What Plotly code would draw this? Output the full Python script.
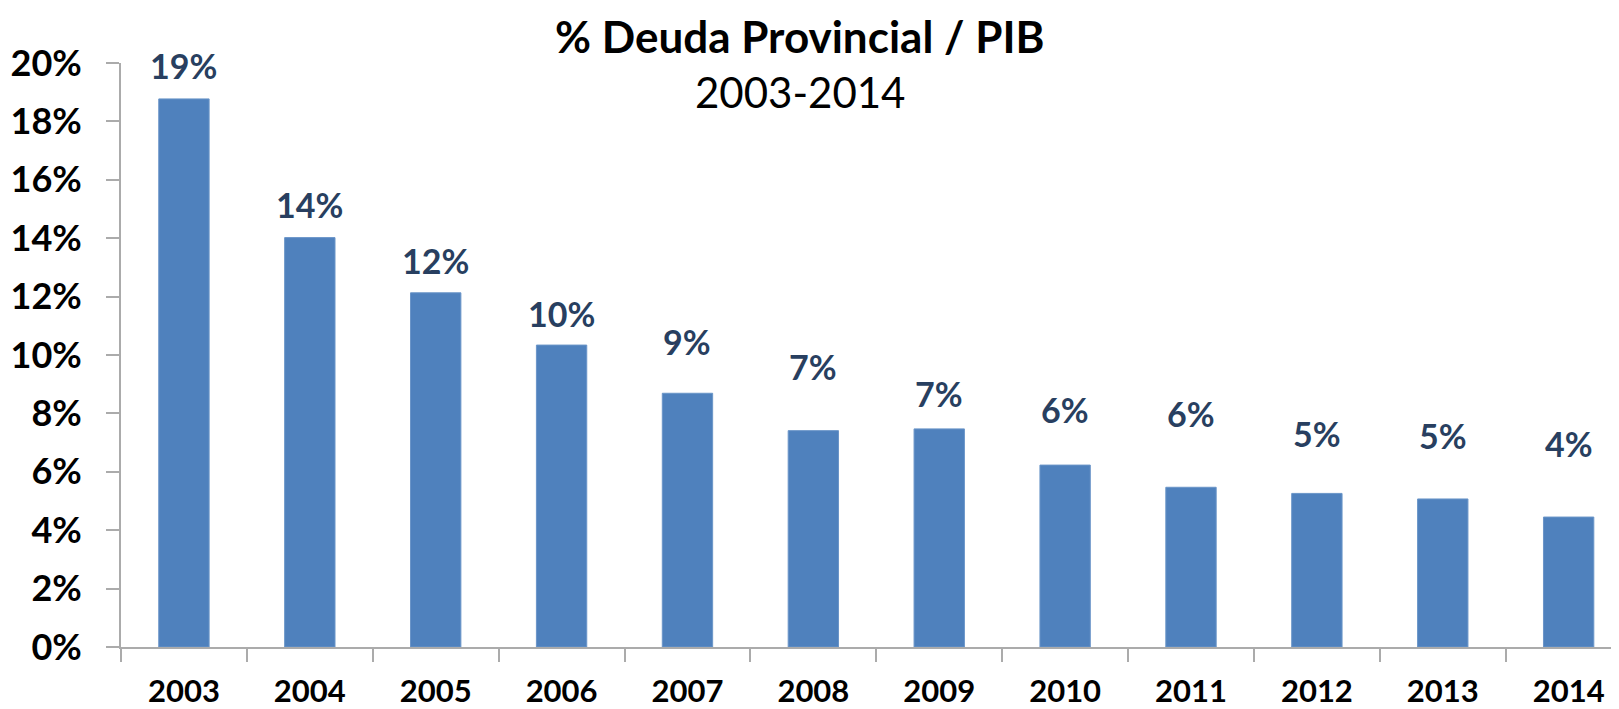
import plotly.graph_objects as go

years = ["2003", "2004", "2005", "2006", "2007", "2008", "2009", "2010", "2011", "2012", "2013", "2014"]
deuda_pib = [18.77, 14.02, 12.13, 10.34, 8.69, 7.41, 7.47, 6.23, 5.47, 5.26, 5.07, 4.45]
label_text = ["19%", "14%", "12%", "10%", "9%", "7%", "7%", "6%", "6%", "5%", "5%", "4%"]
label_y = [19.90, 15.14, 13.25, 11.43, 10.46, 9.60, 8.69, 8.14, 8.01, 7.32, 7.26, 6.98]
y_ticks = [0, 2, 4, 6, 8, 10, 12, 14, 16, 18, 20]
y_tick_text = [f"{v}%" for v in y_ticks]

FONT = "Lato, 'Open Sans', sans-serif"
AXIS_GRAY = "#ABABAB"

fig = go.Figure()
fig.add_trace(go.Bar(
    x=years, y=deuda_pib,
    marker=dict(color="#4F81BD", line=dict(color="#6A95C8", width=1)),
    hoverinfo="x+y",
))

annotations = []
for i, (txt, ly) in enumerate(zip(label_text, label_y)):
    annotations.append(dict(
        x=i, y=ly, xref="x", yref="y", text=f"<b>{txt}</b>",
        showarrow=False, yanchor="middle", xanchor="center",
        font=dict(family=FONT, size=34, color="#283F60"),
    ))

annotations.append(dict(
    x=0.453, y=1.047, xref="paper", yref="paper",
    text="<b>% Deuda Provincial / PIB</b>", showarrow=False,
    xanchor="center", yanchor="middle",
    font=dict(family=FONT, size=44, color="#000000"),
))
annotations.append(dict(
    x=0.453, y=0.951, xref="paper", yref="paper",
    text="2003-2014", showarrow=False,
    xanchor="center", yanchor="middle",
    font=dict(family=FONT, size=42, color="#000000"),
))

# page body has an 8px default margin: size figure to fit the 1619x709 window
fig.update_layout(
    width=1611, height=701,
    margin=dict(l=113, r=0, t=55, b=62),
    paper_bgcolor="white", plot_bgcolor="white",
    showlegend=False,
    bargap=0.6,
    annotations=annotations,
    xaxis=dict(
        type="category", range=[-0.5, 11.4], automargin=False,
        showline=True, linecolor=AXIS_GRAY, linewidth=2,
        ticks="outside", tickson="boundaries", ticklen=13, tickwidth=2, tickcolor=AXIS_GRAY,
        showgrid=False, zeroline=False,
        tickfont=dict(family=FONT, size=31, color="#000000", weight="bold"),
        ticklabelstandoff=16,
    ),
    yaxis=dict(
        range=[0, 20], automargin=False,
        tickvals=y_ticks, ticktext=y_tick_text,
        showline=True, linecolor=AXIS_GRAY, linewidth=2,
        ticks="outside", ticklen=13, tickwidth=2, tickcolor=AXIS_GRAY,
        showgrid=False, zeroline=False,
        tickfont=dict(family=FONT, size=36, color="#000000", weight="bold"),
        ticklabelstandoff=17,
    ),
)

fig.write_html("out.html")
